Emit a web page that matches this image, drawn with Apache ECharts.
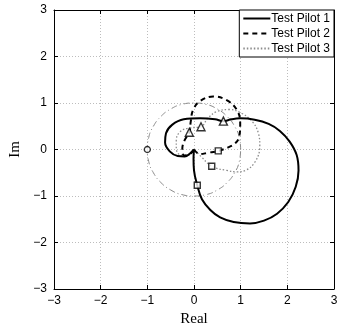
<!DOCTYPE html>
<html><head><meta charset="utf-8">
<script src="https://cdn.jsdelivr.net/npm/echarts@6/dist/echarts.min.js"></script>
<style>html,body{margin:0;padding:0;background:#fff}#c{width:339px;height:323px}</style>
</head><body><div id="c"></div>
<script>
const tickValues = [-3,-2,-1,0,1,2,3];
const tickLabels = ['\u22123','\u22122','\u22121','0','1','2','3'];
const seriesNames = ['Test Pilot 1','Test Pilot 2','Test Pilot 3'];

const pilot1 = [[0,0],[-0.01,-0.2],[0.0,-0.45],[0.07,-0.77],[0.17,-1.07],[0.35,-1.3],[0.56,-1.46],[0.85,-1.56],[1.2,-1.59],[1.5,-1.53],[1.78,-1.38],[2.02,-1.13],[2.18,-0.8],[2.24,-0.45],[2.2,-0.12],[2.05,0.17],[1.84,0.4],[1.6,0.55],[1.3,0.64],[0.99,0.67],[0.8,0.65],[0.63,0.61],[0.45,0.65],[0.13,0.67],[-0.22,0.65],[-0.47,0.53],[-0.6,0.35],[-0.62,0.15],[-0.52,-0.04],[-0.35,-0.14],[-0.2,-0.15],[-0.08,-0.08],[0,0]];
const pilot2 = [[0,0],[0.13,-0.1],[0.3,-0.07],[0.52,-0.03],[0.72,0.04],[0.88,0.13],[0.97,0.28],[0.99,0.56],[0.92,0.85],[0.7,1.06],[0.41,1.14],[0.13,1.04],[-0.02,0.85],[-0.07,0.6],[-0.1,0.37],[-0.2,0.2],[-0.25,0.02],[-0.21,-0.13],[-0.09,-0.1],[0,0]];
const pilot3 = [[0,0],[-0.12,-0.12],[-0.28,-0.12],[-0.38,0.02],[-0.38,0.2],[-0.3,0.38],[-0.12,0.46],[0.15,0.49],[0.3,0.68],[0.5,0.82],[0.75,0.86],[1.02,0.78],[1.25,0.6],[1.38,0.35],[1.41,0.06],[1.3,-0.28],[1.1,-0.45],[0.92,-0.48],[0.7,-0.45],[0.38,-0.36],[0.15,-0.15],[0,0]];
const unitCircle = [[1,0],[0.97,0.26],[0.87,0.5],[0.71,0.71],[0.5,0.87],[0.26,0.97],[0,1],[-0.26,0.97],[-0.5,0.87],[-0.71,0.71],[-0.87,0.5],[-0.97,0.26],[-1,0],[-0.97,-0.26],[-0.87,-0.5],[-0.71,-0.71],[-0.5,-0.87],[-0.26,-0.97],[0,-1],[0.26,-0.97],[0.5,-0.87],[0.71,-0.71],[0.87,-0.5],[0.97,-0.26],[1,0]];
const criticalPoint = [[-1,0]];
const triangleMarks = [[0.63,0.61],[-0.1,0.37],[0.15,0.49]];
const squareMarks = [[0.07,-0.77],[0.52,-0.03],[0.38,-0.36]];

const fmt = v => { const i = tickValues.indexOf(v); return i >= 0 ? tickLabels[i] : ''; };
const axisCommon = {
  type:'value', min:-3, max:3, interval:1,
  axisLine:{show:true, onZero:false, lineStyle:{color:'#000', width:1}},
  axisTick:{show:true, inside:true, length:4, lineStyle:{color:'#000'}},
  axisLabel:{formatter:fmt, color:'#000', fontFamily:'Liberation Sans', fontSize:12},
  splitLine:{show:true, lineStyle:{color:'#bdbdbd', type:[1,2], width:1}}
};
const axisMirror = {
  type:'value', min:-3, max:3, interval:1,
  axisLine:{show:true, onZero:false, lineStyle:{color:'#000', width:1}},
  axisTick:{show:true, inside:true, length:4, lineStyle:{color:'#000'}},
  axisLabel:{show:false}, splitLine:{show:false}
};
const chart = echarts.init(document.getElementById('c'), null, {renderer:'canvas'});
chart.setOption({
  animation:false,
  backgroundColor:'#fff',
  grid:{left:54, right:5, top:10, bottom:34, containLabel:false, outerBoundsMode:'none'},
  xAxis:[
    Object.assign({}, axisCommon, {position:'bottom', name:'Real', nameLocation:'middle', nameGap:19,
      axisLabel:Object.assign({}, axisCommon.axisLabel, {margin:6}),
      nameTextStyle:{fontFamily:'Liberation Serif', fontSize:15, color:'#000'}}),
    Object.assign({}, axisMirror, {position:'top'})
  ],
  yAxis:[
    Object.assign({}, axisCommon, {position:'left', name:'Im', nameLocation:'middle', nameGap:26, nameRotate:90,
      axisLabel:Object.assign({}, axisCommon.axisLabel, {margin:7}),
      nameTextStyle:{fontFamily:'Liberation Serif', fontSize:15, color:'#000'}}),
    Object.assign({}, axisMirror, {position:'right'})
  ],
  legend:{
    data:seriesNames, orient:'vertical', right:5, top:10,
    backgroundColor:'#fff', borderColor:'#000', borderWidth:1, borderRadius:0,
    padding:[2,4,2,3], itemGap:2, itemWidth:27, itemHeight:12,
    itemStyle:{opacity:0},
    textStyle:{fontFamily:'Liberation Sans', fontSize:12, color:'#000', lineHeight:13, padding:[0,0,0,-4]}
  },
  series:[
    {name:'unit', type:'line', data:unitCircle, smooth:0.5, symbol:'none', silent:true,
     lineStyle:{color:'#8a8a8a', width:1, type:[6,3,1,3]}, z:1},
    {name:seriesNames[2], type:'line', data:pilot3, smooth:0.4, symbol:'none',
     lineStyle:{color:'#8c8c8c', width:1.3, type:[1.5,2]}, itemStyle:{color:'#8c8c8c'}, z:2},
    {name:seriesNames[1], type:'line', data:pilot2, smooth:0.4, symbol:'none',
     lineStyle:{color:'#000', width:2, type:[5,4]}, itemStyle:{color:'#000'}, z:3},
    {name:seriesNames[0], type:'line', data:pilot1, smooth:0.4, symbol:'none',
     lineStyle:{color:'#000', width:2}, itemStyle:{color:'#000'}, z:4},
    {name:'tri', type:'scatter', data:triangleMarks, symbol:'triangle', symbolSize:8,
     itemStyle:{color:'#fff', borderColor:'#000', borderWidth:1.4}, z:5},
    {name:'sq', type:'scatter', data:squareMarks, symbol:'rect', symbolSize:6,
     itemStyle:{color:'#fff', borderColor:'#000', borderWidth:1.4}, z:5},
    {name:'crit', type:'scatter', data:criticalPoint, symbol:'circle', symbolSize:6,
     itemStyle:{color:'#fff', borderColor:'#000', borderWidth:1.4}, z:5}
  ]
});
</script></body></html>
